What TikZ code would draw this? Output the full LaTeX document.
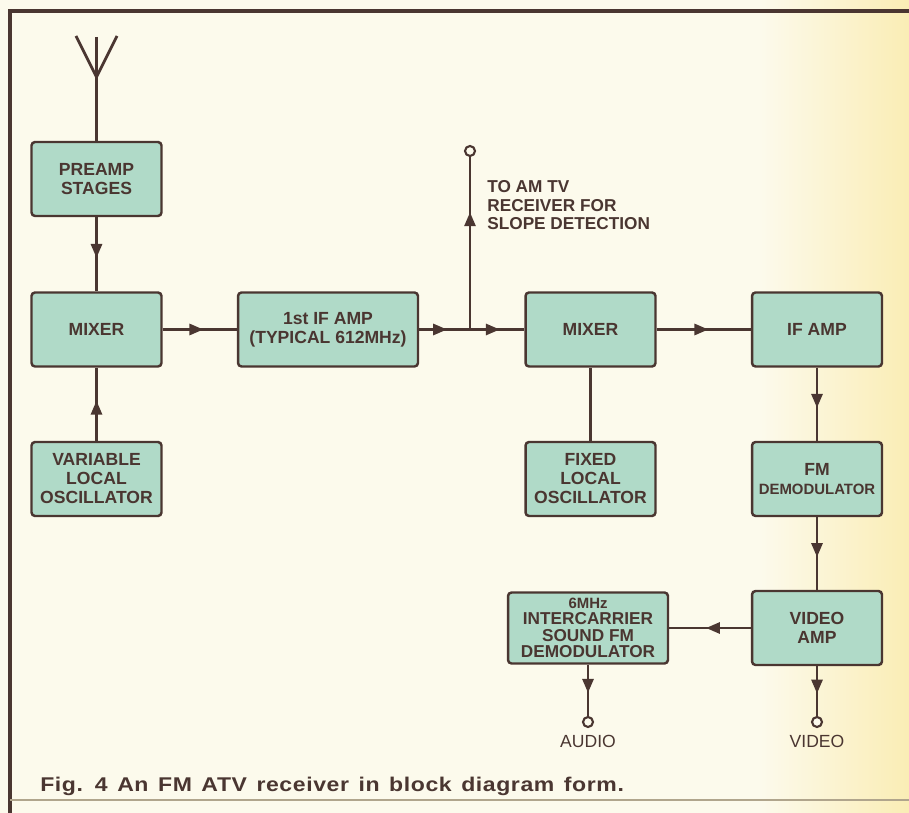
\documentclass[tikz,border=0pt]{standalone}
\usepackage{fontspec}
\setsansfont{Liberation Sans}
\newfontfamily\capfont[LetterSpace=3, FakeStretch=1.16]{Liberation Sans}
\usetikzlibrary{arrows.meta,decorations.markings}

\definecolor{paper}{HTML}{FCFAEC}
\definecolor{papery}{HTML}{FAEDB5}
\definecolor{boxfill}{HTML}{B0DAC8}
\definecolor{ink}{HTML}{4A3631}
\definecolor{edge}{HTML}{B0A58C}

\begin{document}
\begin{tikzpicture}[
  x=0.02cm, y=-0.02cm,
  font=\sffamily\bfseries,
  block/.style={draw=ink, fill=boxfill, line width=1.4pt, rounded corners=2pt, minimum width=2.6cm, minimum height=1.48cm, align=center, text=ink, inner sep=1pt, font=\sffamily\bfseries\fontsize{10}{10.8}\selectfont},
  wire/.style={draw=ink, color=ink, line width=1.6pt},
  midarrow/.style={decoration={markings, mark=at position #1 with {\arrow{Triangle[length=2.8mm,width=2.2mm]}}}, postaction={decorate}},
  midarrow/.default=0.55,
  term/.style={circle, draw=ink, fill=paper, line width=1.2pt, minimum size=0.2cm, inner sep=0pt},
  lbl/.style={text=ink, align=left, inner sep=0pt, font=\sffamily\bfseries\fontsize{9.8}{10.8}\selectfont}
]
% paper and frame
\useasboundingbox (0,0) rectangle (909,813);
\fill[paper] (0,0) rectangle (909,813);
\shade[left color=paper, right color=papery] (760,0) rectangle (909,813);
\draw[ink, line width=2.2pt] (8,11) -- (909,11);
\draw[ink, line width=2pt] (10,11) -- (10,813);
\draw[edge, line width=1pt] (10,800) -- (909,800);

% antenna
\coordinate (ant) at (96.5,37);
\coordinate (antv) at (96.5,77);
\coordinate (antl) at (76,36);
\coordinate (antr) at (117,36);

% first row of blocks
\node[block] (pre)   at (96.5,179) {PREAMP\\STAGES};
\node[block] (mix1)  at (96.5,329.5) {MIXER};
\node[block] (vlo)   at (96.5,479) {VARIABLE\\LOCAL\\OSCILLATOR};
\node[block, minimum width=3.6cm] (if1) at (328,329.5) {1st IF AMP\\(TYPICAL 612MHz)};
\coordinate (junc) at (470,329.5);
\node[term] (amtv) at (470,151) {};
\node[lbl, anchor=base west] (amtvlbl) at (487,230) {TO AM TV\\RECEIVER FOR\\SLOPE DETECTION};
\node[block] (mix2)  at (590.5,329.5) {MIXER};
\node[block] (flo)   at (590.5,479) {FIXED\\LOCAL\\OSCILLATOR};
\node[block] (ifamp) at (817,329.5) {IF AMP};
\node[block] (fmd)   at (817,479) {FM\\{\fontsize{8.5}{10}\selectfont DEMODULATOR}};
\node[block] (vamp)  at (817,628) {VIDEO\\AMP};
\node[block, minimum width=3.2cm, minimum height=1.42cm, font=\sffamily\bfseries\fontsize{9.8}{9.3}\selectfont] (snd) at (588,628) {{\fontsize{8.5}{9}\selectfont 6MHz}\\INTERCARRIER\\SOUND FM\\DEMODULATOR};

% outputs
\node[term] (audio) at (588,722) {};
\node[term] (video) at (817,722) {};
\node[text=ink, font=\sffamily\fontsize{10}{12}\selectfont, anchor=base] (audiolbl) at (588,747) {AUDIO};
\node[text=ink, font=\sffamily\fontsize{10}{12}\selectfont, anchor=base] (videolbl) at (817,747) {VIDEO};

% caption
\node[text=ink, anchor=base west, inner sep=0pt, font=\capfont\bfseries\fontsize{11.3}{13}\selectfont] (cap) at (40,791) {\spaceskip=0.48em\relax Fig. 4 An FM ATV receiver in block diagram form.};

% connections
\draw[wire] (antl) -- (antv) -- (antr);
\draw[wire] (ant) -- (pre.north);
\draw[wire, midarrow] (pre) -- (mix1);
\draw[wire, midarrow] (vlo) -- (mix1);
\draw[wire, midarrow] (mix1) -- (if1);
\draw[wire, midarrow] (if1) -- (junc);
\draw[wire, midarrow] (junc) -- (mix2);
\draw[wire, midarrow=0.68] (junc) -- (amtv);
\draw[wire, midarrow] (mix2) -- (ifamp);
\draw[wire] (flo) -- (mix2);
\draw[wire, midarrow] (ifamp) -- (fmd);
\draw[wire, midarrow] (fmd) -- (vamp);
\draw[wire, midarrow] (vamp) -- (snd);
\draw[wire, midarrow] (snd) -- (audio);
\draw[wire, midarrow] (vamp) -- (video);
\end{tikzpicture}
\end{document}
